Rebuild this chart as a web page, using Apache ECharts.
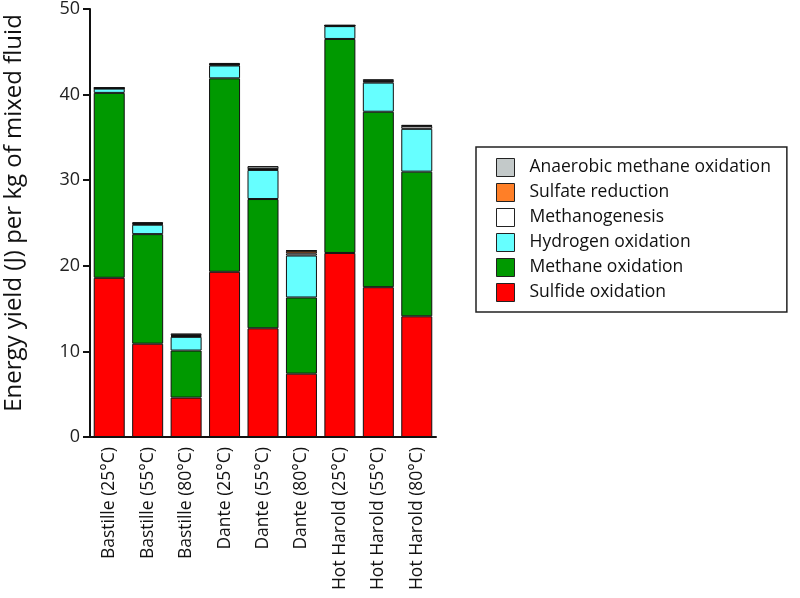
<!DOCTYPE html>
<html>
<head>
<meta charset="utf-8">
<script src="https://cdn.jsdelivr.net/npm/echarts@6/dist/echarts.min.js"></script>
<style>html,body{margin:0;padding:0;background:#fff}#c{width:800px;height:598px}</style>
</head>
<body>
<div id="c"></div>
<script>
const categories = ['Bastille (25°C)','Bastille (55°C)','Bastille (80°C)','Dante (25°C)','Dante (55°C)','Dante (80°C)','Hot Harold (25°C)','Hot Harold (55°C)','Hot Harold (80°C)'];
const sulfideOxidation   = [18.6, 10.9, 4.6, 19.3, 12.7, 7.4, 21.5, 17.5, 14.1];
const methaneOxidation   = [21.6, 12.8, 5.5, 22.6, 15.1, 8.9, 25.0, 20.5, 16.9];
const hydrogenOxidation  = [0.5, 1.1, 1.6, 1.5, 3.4, 4.9, 1.5, 3.4, 5.0];
const methanogenesis     = [0.05, 0.1, 0.1, 0.1, 0.1, 0.25, 0.05, 0.15, 0.3];
const sulfateReduction   = [0.02, 0.05, 0.1, 0.05, 0.05, 0.3, 0.02, 0.05, 0.05];
const anaerobicMethaneOx = [0.05, 0.15, 0.2, 0.15, 0.3, 0.05, 0.05, 0.2, 0.1];
const yTicks = {min: 0, max: 50, interval: 10};
const yAxisTitle = 'Energy yield (J) per kg of mixed fluid';

const FONT = '"Open Sans"';
const seriesDefs = [
  {name: 'Sulfide oxidation', data: sulfideOxidation, color: '#ff0000'},
  {name: 'Methane oxidation', data: methaneOxidation, color: '#009900'},
  {name: 'Hydrogen oxidation', data: hydrogenOxidation, color: '#66ffff'},
  {name: 'Methanogenesis', data: methanogenesis, color: '#ffffff'},
  {name: 'Sulfate reduction', data: sulfateReduction, color: '#ff7f27'},
  {name: 'Anaerobic methane oxidation', data: anaerobicMethaneOx, color: '#c3c9c9'}
];

const chart = echarts.init(document.getElementById('c'), null, {renderer: 'canvas'});
chart.setOption({
  animation: false,
  backgroundColor: '#fff',
  grid: {left: 90, right: 364, top: 7, bottom: 161, containLabel: false},
  graphic: [{
    type: 'text', x: 14, y: 213, rotation: Math.PI / 2,
    style: {text: yAxisTitle, fontFamily: FONT, fontSize: 24, fill: '#111', align: 'center', verticalAlign: 'middle'}
  }],
  legend: {
    orient: 'vertical',
    left: 476, top: 147,
    data: seriesDefs.map(s => s.name).reverse(),
    itemWidth: 18, itemHeight: 18, itemGap: 6,
    borderColor: '#222', borderWidth: 1.5,
    padding: [11, 16, 10, 20],
    icon: 'rect',
    itemStyle: {borderColor: '#222', borderWidth: 1},
    textStyle: {fontFamily: FONT, fontSize: 17.5, color: '#111', padding: [0, 0, 0, 10]}
  },
  xAxis: {
    type: 'category',
    data: categories,
    axisLine: {lineStyle: {color: '#111', width: 2}},
    axisTick: {inside: true, length: 5, lineStyle: {color: '#111', width: 2}},
    axisLabel: {rotate: 90, fontFamily: FONT, fontSize: 17.5, color: '#111', margin: 10, interval: 0}
  },
  yAxis: {
    type: 'value',
    min: yTicks.min, max: yTicks.max, interval: yTicks.interval,
    splitLine: {show: false},
    axisLine: {show: true, lineStyle: {color: '#111', width: 2}},
    axisTick: {show: true, length: 7, lineStyle: {color: '#111', width: 2}},
    axisLabel: {fontFamily: FONT, fontSize: 18, color: '#222', margin: 10}
  },
  series: seriesDefs.map(s => ({
    name: s.name,
    type: 'bar',
    stack: 'total',
    barWidth: 31,
    data: s.data,
    itemStyle: {color: s.color, borderColor: '#111', borderWidth: 1}
  }))
});
</script>
</body>
</html>
